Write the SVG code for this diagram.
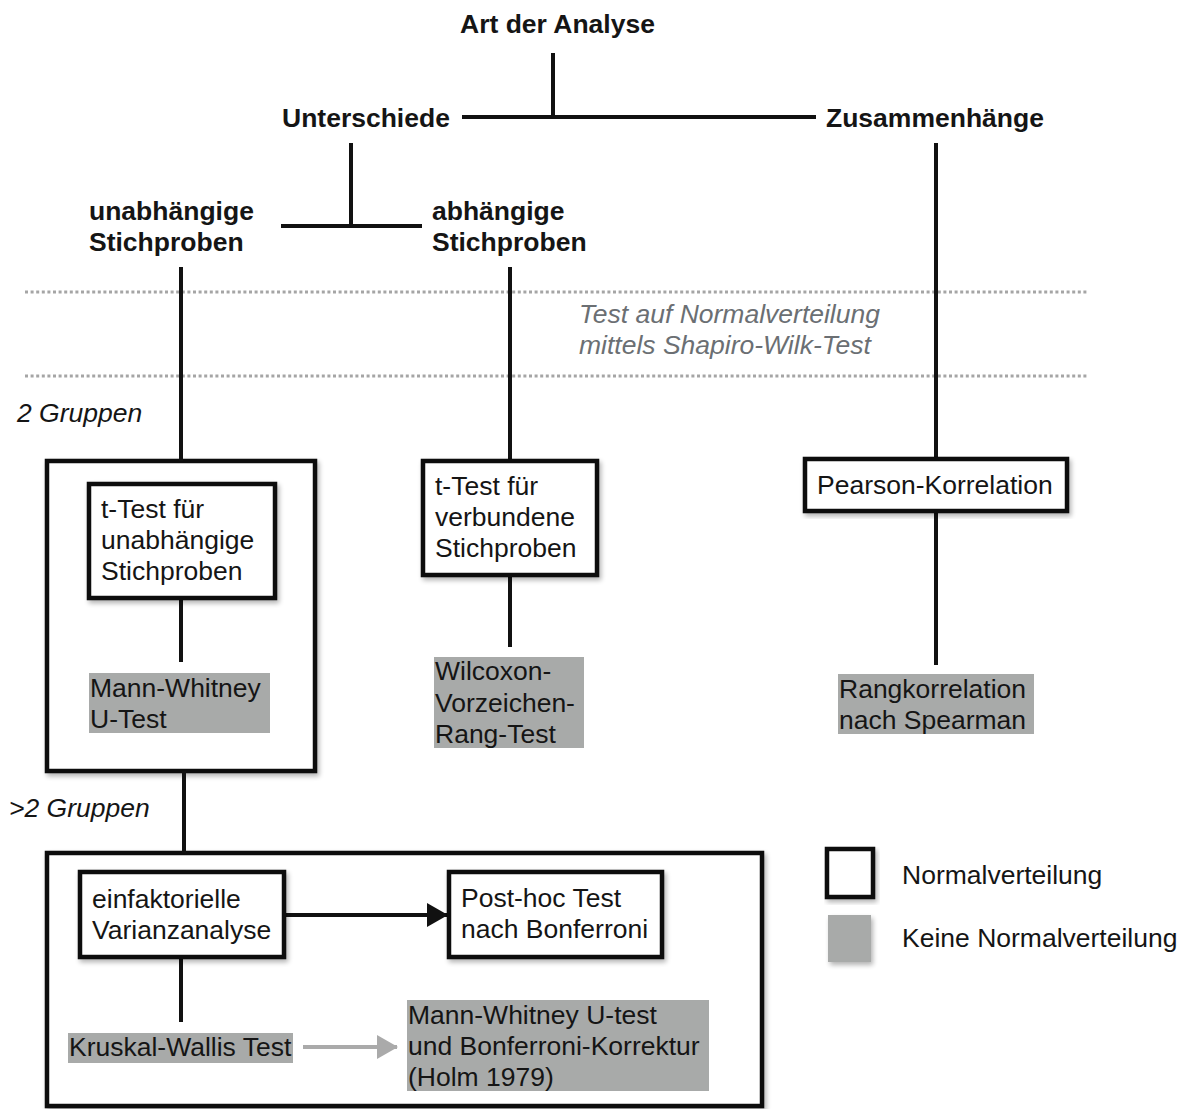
<svg xmlns="http://www.w3.org/2000/svg" width="1188" height="1109" viewBox="0 0 1188 1109">
  <style>
    .t { font-family: "Liberation Sans", Arial, sans-serif; font-size: 26.5px; fill: #151515; }
    .b { font-weight: bold; }
    .i { font-style: italic; }
    .note { fill: #6b6f73; }
    .box { fill: #ffffff; stroke: #111111; stroke-width: 4.5; filter: url(#shadow); }
    .gray { fill: #a8aaa9; }
    .ln { stroke: #111111; stroke-width: 4; fill: none; }
    .dot { stroke: #a5a5a5; stroke-width: 3; stroke-dasharray: 3 2.6; fill: none; }
  </style>
  <defs>
    <filter id="shadow" x="-10%" y="-10%" width="125%" height="125%">
      <feGaussianBlur in="SourceAlpha" stdDeviation="2.5"/>
      <feOffset dx="2" dy="3" result="o"/>
      <feComponentTransfer><feFuncA type="linear" slope="0.3"/></feComponentTransfer>
      <feMerge><feMergeNode/><feMergeNode in="SourceGraphic"/></feMerge>
    </filter>
    <marker id="headBlack" markerUnits="userSpaceOnUse" markerWidth="22" markerHeight="24" refX="20" refY="12" orient="auto">
      <path d="M0,0 L21,12 L0,24 Z" fill="#111111"/>
    </marker>
    <marker id="headGray" markerUnits="userSpaceOnUse" markerWidth="22" markerHeight="24" refX="20" refY="12" orient="auto">
      <path d="M0,0 L21,12 L0,24 Z" fill="#aaaaaa"/>
    </marker>
  </defs>

  <rect width="1188" height="1109" fill="#ffffff"/>

  <!-- normality test band -->
  <g id="normality-band">
    <line class="dot" x1="25" y1="292" x2="1087" y2="292"/>
    <line class="dot" x1="25" y1="376" x2="1087" y2="376"/>
    <text class="t i note" x="579" y="323">Test auf Normalverteilung</text>
    <text class="t i note" x="579" y="354">mittels Shapiro-Wilk-Test</text>
  </g>

  <!-- group containers -->
  <g id="two-groups">
    <rect class="box" x="47" y="461" width="268" height="310"/>
    <text class="t i" x="17" y="422">2 Gruppen</text>
  </g>
  <g id="more-groups">
    <rect class="box" x="47" y="853" width="715" height="253"/>
    <text class="t i" x="9" y="817">&gt;2 Gruppen</text>
  </g>

  <!-- connectors -->
  <g id="connectors">
    <line class="ln" x1="553" y1="53" x2="553" y2="117"/>
    <line class="ln" x1="462" y1="117" x2="816" y2="117"/>
    <line class="ln" x1="351" y1="143" x2="351" y2="226"/>
    <line class="ln" x1="281" y1="226" x2="422" y2="226"/>
    <line class="ln" x1="936" y1="143" x2="936" y2="459"/>
    <line class="ln" x1="181" y1="267" x2="181" y2="461"/>
    <line class="ln" x1="510" y1="267" x2="510" y2="461"/>
    <line class="ln" x1="181" y1="598" x2="181" y2="662"/>
    <line class="ln" x1="510" y1="575" x2="510" y2="647"/>
    <line class="ln" x1="936" y1="511" x2="936" y2="665"/>
    <line class="ln" x1="184" y1="771" x2="184" y2="853"/>
    <line class="ln" x1="181" y1="957" x2="181" y2="1022"/>
    <line class="ln" x1="286" y1="915" x2="447" y2="915" marker-end="url(#headBlack)"/>
    <line x1="303" y1="1047" x2="397" y2="1047" stroke="#aaaaaa" stroke-width="4" marker-end="url(#headGray)"/>
  </g>

  <!-- headings -->
  <g id="art-der-analyse"><text class="t b" x="460" y="33">Art der Analyse</text></g>
  <g id="unterschiede"><text class="t b" x="282" y="127">Unterschiede</text></g>
  <g id="zusammenhaenge"><text class="t b" x="826" y="127">Zusammenhänge</text></g>
  <g id="unabhaengige">
    <text class="t b" x="89" y="220">unabhängige</text>
    <text class="t b" x="89" y="251">Stichproben</text>
  </g>
  <g id="abhaengige">
    <text class="t b" x="432" y="220">abhängige</text>
    <text class="t b" x="432" y="251">Stichproben</text>
  </g>

  <!-- tests: normal distribution -->
  <g id="t-test-unabh">
    <rect class="box" x="89" y="484" width="186" height="114"/>
    <text class="t" x="101" y="518">t-Test für</text>
    <text class="t" x="101" y="549">unabhängige</text>
    <text class="t" x="101" y="580">Stichproben</text>
  </g>
  <g id="t-test-verb">
    <rect class="box" x="423" y="461" width="174" height="114"/>
    <text class="t" x="435" y="495">t-Test für</text>
    <text class="t" x="435" y="526">verbundene</text>
    <text class="t" x="435" y="557">Stichproben</text>
  </g>
  <g id="pearson">
    <rect class="box" x="805" y="459" width="262" height="52"/>
    <text class="t" x="817" y="494">Pearson-Korrelation</text>
  </g>
  <g id="anova">
    <rect class="box" x="80" y="872" width="204" height="85"/>
    <text class="t" x="92" y="908">einfaktorielle</text>
    <text class="t" x="92" y="939">Varianzanalyse</text>
  </g>
  <g id="posthoc">
    <rect class="box" x="449" y="872" width="213" height="85"/>
    <text class="t" x="461" y="907">Post-hoc Test</text>
    <text class="t" x="461" y="938">nach Bonferroni</text>
  </g>

  <!-- tests: no normal distribution -->
  <g id="mann-whitney">
    <rect class="gray" x="89" y="673" width="181" height="60"/>
    <text class="t" x="90" y="697">Mann-Whitney</text>
    <text class="t" x="90" y="728">U-Test</text>
  </g>
  <g id="wilcoxon">
    <rect class="gray" x="434" y="657" width="150" height="91"/>
    <text class="t" x="435" y="680">Wilcoxon-</text>
    <text class="t" x="435" y="712">Vorzeichen-</text>
    <text class="t" x="435" y="743">Rang-Test</text>
  </g>
  <g id="spearman">
    <rect class="gray" x="838" y="674" width="196" height="60"/>
    <text class="t" x="839" y="698">Rangkorrelation</text>
    <text class="t" x="839" y="729">nach Spearman</text>
  </g>
  <g id="kruskal">
    <rect class="gray" x="68" y="1033" width="225" height="30"/>
    <text class="t" x="69" y="1056">Kruskal-Wallis Test</text>
  </g>
  <g id="mw-bonferroni">
    <rect class="gray" x="407" y="1000" width="302" height="91"/>
    <text class="t" x="408" y="1024">Mann-Whitney U-test</text>
    <text class="t" x="408" y="1055">und Bonferroni-Korrektur</text>
    <text class="t" x="408" y="1086">(Holm 1979)</text>
  </g>

  <!-- legend -->
  <g id="legend">
    <rect class="box" x="827" y="849" width="46" height="48"/>
    <text class="t" x="902" y="884">Normalverteilung</text>
    <rect class="gray" x="828" y="915" width="43" height="47" filter="url(#shadow)"/>
    <text class="t" x="902" y="947">Keine Normalverteilung</text>
  </g>
</svg>
